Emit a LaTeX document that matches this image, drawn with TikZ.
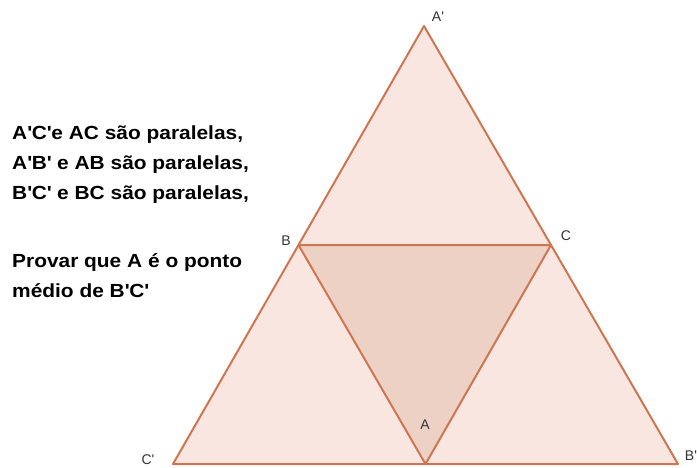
\documentclass[tikz,border=0pt]{standalone}
\usepackage{fontspec}
\setmainfont{Liberation Sans}
\newfontfamily\largo{Liberation Sans}[FakeStretch=1.1]
\definecolor{lado}{RGB}{206,118,82}
\definecolor{fundo}{RGB}{249,230,224}
\definecolor{meio}{RGB}{237,209,197}
\newcommand{\pr}{\textquotesingle}

\begin{document}
\begin{tikzpicture}[x=1pt, y=1pt,
  rotulo/.style={font=\fontsize{14}{14}\selectfont, text=black!80, inner sep=0pt},
  lados/.style={lado, line width=2pt, line join=round}]
  \useasboundingbox (0,0) rectangle (697,467);
  % vertices
  \coordinate (A1) at (424,441);
  \coordinate (C1) at (173,3);
  \coordinate (B1) at (678,3);
  \coordinate (B) at (298.5,222);
  \coordinate (C) at (551,222);
  \coordinate (A) at (425.5,3);
  % triangulos
  \fill[fundo] (A1) -- (C1) -- (B1) -- cycle;
  \fill[meio] (A) -- (B) -- (C) -- cycle;
  \draw[lados] (A1) -- (C1) -- (B1) -- cycle;
  \draw[lados] (A) -- (B) -- (C) -- cycle;
  % rotulos
  \node[rotulo] (lA1) at (438,450) {A\pr};
  \node[rotulo] (lB) at (286,226) {B};
  \node[rotulo] (lC) at (566,231) {C};
  \node[rotulo] (lC1) at (148,7) {C\pr};
  \node[rotulo] (lA) at (425,42) {A};
  \node[rotulo] (lB1) at (691,11) {B\pr};
  % enunciado
  \node[anchor=north west, align=left, inner sep=0pt,
    font=\largo\fontsize{19}{30}\selectfont\bfseries] (texto) at (12,341)
    {A\pr C\pr e AC são paralelas,\\
     A\pr B\pr\ e AB são paralelas,\\
     B\pr C\pr\ e BC são paralelas,\\[38pt]
     Provar que A é o ponto\\
     médio de B\pr C\pr};
\end{tikzpicture}
\end{document}
